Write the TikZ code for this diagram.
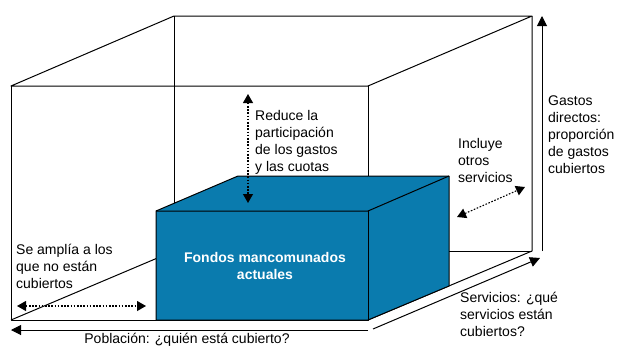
\documentclass[tikz,border=0pt]{standalone}
\usepackage{fontspec}
\setmainfont{Liberation Sans}
\usetikzlibrary{arrows.meta}
\definecolor{fondo}{HTML}{0A7BAE}
\tikzset{
  edge/.style={line width=1pt, line join=round},
  tip/.style={-{Triangle[length=10pt,width=10pt]}},
  bitip/.style={{Triangle[length=9pt,width=10pt]}-{Triangle[length=9pt,width=10pt]}},
  axis/.style={line width=1pt, tip},
  dotarrow/.style={line width=1.1pt, dash pattern=on 1.6pt off 1.6pt, bitip},
  lbl/.style={anchor=north west, inner sep=0pt, align=left, font=\fontsize{14}{17}\selectfont},
}
\begin{document}
\begin{tikzpicture}[x=1pt,y=-1pt]
\useasboundingbox (0,0) rectangle (619,346);
% big box corners
\coordinate (FTL) at (11,86);
\coordinate (FTR) at (368,86);
\coordinate (FBL) at (11,320);
\coordinate (FBR) at (368,320);
\coordinate (BTL) at (174,16);
\coordinate (BTR) at (532,16);
\coordinate (BBL) at (174,251);
\coordinate (BBR) at (532,251);
% big box
\draw[edge] (FTL) -- (BTL) -- (BTR) -- (FTR) -- cycle;
\draw[edge] (FTL) -- (FBL) -- (FBR) -- (FTR);
\draw[edge] (BTR) -- (BBR) -- (FBR);
\draw[edge] (BTL) -- (BBL) -- (BBR);
\draw[edge] (FBL) -- (BBL);
% blue box corners
\coordinate (bFTL) at (156,211);
\coordinate (bFTR) at (368,211);
\coordinate (bFBL) at (156,320);
\coordinate (bFBR) at (368,320);
\coordinate (bBTL) at (238,176);
\coordinate (bBTR) at (449,176);
\coordinate (bBBR) at (449,286);
\filldraw[edge, fill=fondo] (bFTL) -- (bBTL) -- (bBTR) -- (bBBR) -- (bFBR) -- (bFBL) -- cycle;
\draw[edge] (bFTL) -- (bFTR) -- (bBTR);
\draw[edge] (bFTR) -- (bFBR);
\node[inner sep=0pt, align=center, text=white, font=\fontsize{14}{17}\selectfont\bfseries] (fondos) at (265,266) {Fondos mancomunados\\actuales};
% axes
\coordinate (vA) at (542,251);
\coordinate (vB) at (542,16);
\draw[axis] (vA) -- (vB);
\coordinate (hA) at (368,330);
\coordinate (hB) at (11,330);
\draw[axis] (hA) -- (hB);
\coordinate (dA) at (373,329);
\coordinate (dB) at (540,258);
\draw[axis] (dA) -- (dB);
% dotted arrows
\coordinate (r1) at (248,94);
\coordinate (r2) at (248,203);
\draw[dotarrow] (r1) -- (r2);
\coordinate (s1) at (17,306);
\coordinate (s2) at (146,306);
\draw[dotarrow] (s1) -- (s2);
\coordinate (i1) at (457,217);
\coordinate (i2) at (525,187);
\draw[dotarrow] (i1) -- (i2);
% labels
\node[lbl] (reduce) at (255,110) {Reduce la\\participación\\de los gastos\\y las cuotas};
\node[lbl] (amplia) at (16,244) {Se amplía a los\\que no están\\cubiertos};
\node[anchor=base, inner sep=0pt, font=\fontsize{14}{17}\selectfont] (poblacion) at (187,343) {Población: ¿quién está cubierto?};
\node[lbl] (servicios) at (460,292) {Servicios: ¿qué\\servicios están\\cubiertos?};
\node[lbl] (incluye) at (458,138) {Incluye\\otros\\servicios};
\node[lbl] (gastos) at (548,96) {Gastos\\directos:\\proporción\\de gastos\\cubiertos};
\end{tikzpicture}
\end{document}
